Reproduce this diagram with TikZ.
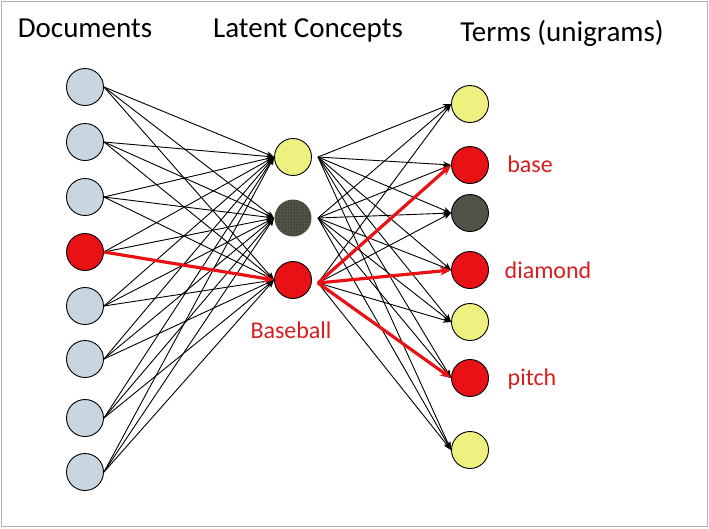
\documentclass[tikz,border=0pt]{standalone}
\usepackage{fontspec}
\setmainfont{Carlito}
\usetikzlibrary{arrows.meta,patterns}
\definecolor{lblue}{RGB}{200,214,226}
\definecolor{lyel}{RGB}{238,240,128}
\definecolor{dred}{RGB}{232,18,22}
\definecolor{dgray}{RGB}{80,84,72}
\definecolor{tred}{RGB}{215,30,30}
\begin{document}
\begin{tikzpicture}[x=1pt,y=-1pt,
  nd/.style={circle,draw=black,line width=0.9pt,minimum size=37pt,inner sep=0pt},
  edge/.style={-{Stealth[length=8pt,width=6pt]},line width=0.9pt},
  redge/.style={-{Stealth[length=11pt,width=9pt]},line width=3.2pt,draw=dred},
  hdr/.style={font=\fontsize{29}{31}\selectfont},
  lab/.style={font=\fontsize{24}{26}\selectfont,text=tred}]
\useasboundingbox (0,0) rectangle (709,528);
\draw[gray!60,line width=1pt] (1.5,1.5) rectangle (707.5,526.5);
\node[hdr] (h1) at (85,28) {Documents};
\node[hdr] (h2) at (308,30) {Latent Concepts};
\node[hdr] (h3) at (562,33) {Terms (unigrams)};
% left
\foreach \i/\y/\c in {1/87/lblue,2/142/lblue,3/197/lblue,4/252/dred,5/306/lblue,6/359/lblue,7/418/lblue,8/472/lblue}
  \node[nd,fill=\c] (L\i) at (85,\y) {};
% middle
\node[nd,fill=lyel] (M1) at (293,157) {};
\node[nd,fill=dgray,draw=none] (M2) at (293,218) {};
\fill[pattern=dots,pattern color=black] (M2) circle (18pt);
\node[nd,fill=dred] (M3) at (293,280) {};
% right
\foreach \i/\y/\c in {1/104/lyel,2/165/dred,3/213/dgray,4/270/dred,5/322/lyel,6/378/dred,7/450/lyel}
  \node[nd,fill=\c] (R\i) at (470,\y) {};
\coordinate (o1) at (318,157);
\coordinate (o2) at (318,218);
\coordinate (o3) at (318,283);
\foreach \i in {1,...,8}
  \foreach \j in {1,2,3}
    \draw[edge] (L\i.east) -- (M\j.west);
\foreach \j in {1,2,3}
  \foreach \k in {1,...,7}
    \draw[edge] (o\j) -- (R\k.west);
\draw[redge] (L4.east) -- (M3.west);
\draw[redge] (o3) -- (R2.west);
\draw[redge] (o3) -- (R4.west);
\draw[redge] (o3) -- (R6.west);
\node[lab] (b) at (291,330) {Baseball};
\node[lab] (t1) at (530,164) {base};
\node[lab] (t2) at (548,270) {diamond};
\node[lab] (t3) at (532,379) {pitch};
\end{tikzpicture}
\end{document}
